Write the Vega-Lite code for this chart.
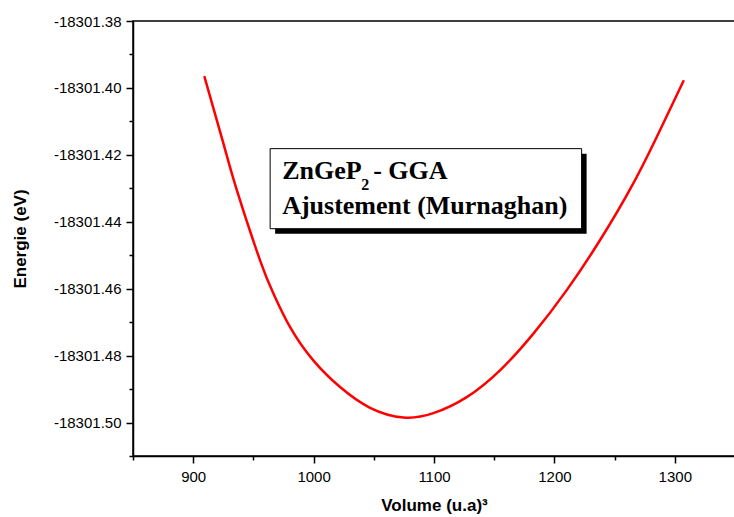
{
  "$schema": "https://vega.github.io/schema/vega-lite/v6.json",
  "width": 602,
  "height": 435,
  "autosize": {"type": "none"},
  "padding": {"left": 133, "top": 21, "right": 0, "bottom": 61},
  "background": "white",
  "config": {
    "view": {"stroke": "black", "strokeWidth": 1.5},
    "axis": {
      "labelFont": "Liberation Sans",
      "labelFontSize": 15,
      "labelColor": "black",
      "titleFont": "Liberation Sans",
      "titleFontSize": 17,
      "titleFontWeight": "bold",
      "titleColor": "black",
      "domainColor": "black",
      "domainWidth": 1.5,
      "tickColor": "black",
      "tickWidth": 1.5,
      "grid": false
    }
  },
  "datasets": {
    "curve": [
      {"V": 909.2, "E": -18301.3965},
      {"V": 925.2, "E": -18301.4167},
      {"V": 936.3, "E": -18301.4306},
      {"V": 955.6, "E": -18301.4516},
      {"V": 966.7, "E": -18301.4615},
      {"V": 980.5, "E": -18301.4715},
      {"V": 999.9, "E": -18301.4815},
      {"V": 1022.0, "E": -18301.4894},
      {"V": 1046.9, "E": -18301.4956},
      {"V": 1074.6, "E": -18301.4985},
      {"V": 1099.5, "E": -18301.4972},
      {"V": 1127.2, "E": -18301.4924},
      {"V": 1154.8, "E": -18301.4844},
      {"V": 1182.4, "E": -18301.4735},
      {"V": 1210.1, "E": -18301.4605},
      {"V": 1237.7, "E": -18301.4456},
      {"V": 1265.4, "E": -18301.4286},
      {"V": 1287.6, "E": -18301.4127},
      {"V": 1307.5, "E": -18301.3977}
    ],
    "note": [
      {"V": 963.9, "V2": 1222.6, "E": -18301.41815, "E2": -18301.44207}
    ]
  },
  "encoding": {
    "x": {
      "field": "V", "type": "quantitative",
      "scale": {"domain": [850, 1350], "nice": false, "zero": false},
      "axis": {
        "title": "Volume (u.a)³",
        "values": [850, 900, 950, 1000, 1050, 1100, 1150, 1200, 1250, 1300, 1350],
        "tickSize": {"condition": {"test": "datum.value % 100 == 0", "value": 7}, "value": 4},
        "labelExpr": "datum.value % 100 == 0 ? datum.label : ''",
        "format": "d",
        "labelPadding": 6,
        "titlePadding": 13,
        "labelFlush": false,
        "labelOverlap": false
      }
    },
    "y": {
      "field": "E", "type": "quantitative",
      "scale": {"domain": [-18301.51, -18301.38], "nice": false, "zero": false},
      "axis": {
        "title": "Energie (eV)",
        "values": [-18301.51, -18301.5, -18301.49, -18301.48, -18301.47, -18301.46, -18301.45, -18301.44, -18301.43, -18301.42, -18301.41, -18301.4, -18301.39, -18301.38],
        "format": ".2f",
        "tickSize": {"condition": {"test": "abs(round(datum.value * 100)) % 2 == 0", "value": 7}, "value": 4},
        "labelExpr": "abs(round(datum.value * 100)) % 2 == 0 ? '-' + substring(datum.label, 1) : ''",
        "labelPadding": 5,
        "titlePadding": 24,
        "labelFlush": false,
        "labelOverlap": false
      }
    }
  },
  "layer": [
    {
      "data": {"name": "curve"},
      "mark": {"type": "line", "color": "#ff0000", "strokeWidth": 2.5, "interpolate": "natural"}
    },
    {
      "data": {"name": "note"},
      "mark": {"type": "rect", "fill": "black", "xOffset": 5, "x2Offset": 5, "yOffset": 5, "y2Offset": 5},
      "encoding": {
        "x2": {"field": "V2"},
        "y2": {"field": "E2"}
      }
    },
    {
      "data": {"name": "note"},
      "mark": {"type": "rect", "fill": "white", "stroke": "black", "strokeWidth": 1},
      "encoding": {
        "x2": {"field": "V2"},
        "y2": {"field": "E2"}
      }
    },
    {
      "data": {"name": "note"},
      "mark": {"type": "text", "font": "Liberation Serif", "fontWeight": "bold", "fontSize": 26, "align": "left", "baseline": "alphabetic", "dx": 12, "dy": 30, "color": "black"},
      "encoding": {"text": {"value": "ZnGeP"}}
    },
    {
      "data": {"name": "note"},
      "mark": {"type": "text", "font": "Liberation Serif", "fontWeight": "bold", "fontSize": 16, "align": "left", "baseline": "alphabetic", "dx": 91, "dy": 41, "color": "black"},
      "encoding": {"text": {"value": "2"}}
    },
    {
      "data": {"name": "note"},
      "mark": {"type": "text", "font": "Liberation Serif", "fontWeight": "bold", "fontSize": 26, "align": "left", "baseline": "alphabetic", "dx": 103, "dy": 30, "color": "black"},
      "encoding": {"text": {"value": "- GGA"}}
    },
    {
      "data": {"name": "note"},
      "mark": {"type": "text", "font": "Liberation Serif", "fontWeight": "bold", "fontSize": 26, "align": "left", "baseline": "alphabetic", "dx": 12, "dy": 65, "color": "black"},
      "encoding": {"text": {"value": "Ajustement (Murnaghan)"}}
    }
  ]
}
